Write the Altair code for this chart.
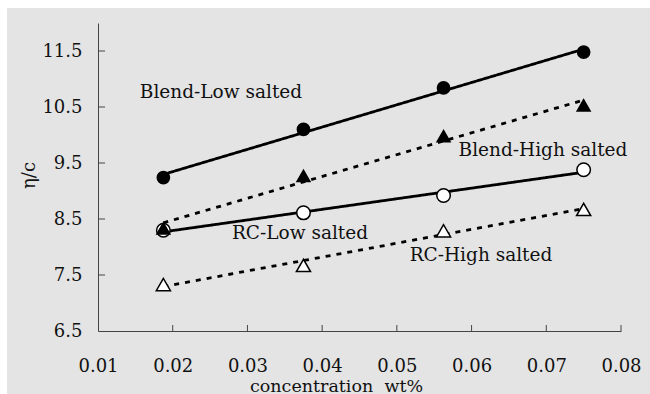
import altair as alt
import pandas as pd

conc = [0.01875, 0.0375, 0.05625, 0.075]
blend_low = [9.24, 10.10, 10.84, 11.48]
blend_high = [8.33, 9.27, 9.98, 10.53]
rc_low = [8.30, 8.61, 8.92, 9.38]
rc_high = [7.33, 7.67, 8.29, 8.67]

series_names = ["Blend-Low salted", "Blend-High salted", "RC-Low salted", "RC-High salted"]
series_vals = [blend_low, blend_high, rc_low, rc_high]

x_ticks = [0.01, 0.02, 0.03, 0.04, 0.05, 0.06, 0.07, 0.08]
y_ticks = [6.5, 7.5, 8.5, 9.5, 10.5, 11.5]

rows = []
for name, vals in zip(series_names, series_vals):
    for c, v in zip(conc, vals):
        rows.append({"series": name, "conc": c, "eta": v})
df = pd.DataFrame(rows)
# draw order so the filled triangle sits over the open circle
draw_order = {"RC-Low salted": 0, "RC-High salted": 1, "Blend-Low salted": 2, "Blend-High salted": 3}
df["ord"] = df["series"].map(draw_order)

W, H = 523, 308
SERIF = "DejaVu Serif"

xscale = alt.Scale(domain=[0.01, 0.08], nice=False, zero=False)
yscale = alt.Scale(domain=[6.5, 12], nice=False, zero=False)

xenc = alt.X("conc:Q", scale=xscale,
             axis=alt.Axis(values=x_ticks, format=".2f", ticks=False, grid=False,
                           labelFlush=False, labelOverlap=False,
                           labelFont=SERIF, labelFontSize=18, labelColor="#111",
                           labelPadding=26, title="concentration\u00a0 wt%",
                           titleFont=SERIF, titleFontSize=17.5, titleColor="#111",
                           titleFontWeight="normal",
                           titleX=238, titleY=55, titleBaseline="middle", zindex=2))
yenc = alt.Y("eta:Q", scale=yscale,
             axis=alt.Axis(values=y_ticks, format=".1f", ticks=False, grid=False,
                           labelFlush=False, labelOverlap=False,
                           labelFont=SERIF, labelFontSize=18, labelColor="#111",
                           labelPadding=16, title="η/c",
                           titleFont=SERIF, titleFontSize=18, titleColor="#111",
                           titleFontWeight="normal",
                           titleX=-69, titleY=152, titleBaseline="middle",
                           titleAlign="center", zindex=2))

bg = alt.Chart(alt.Data(values=[{}])).mark_rect(color="#e4e4e4").encode(
    x=alt.value(-91), x2=alt.value(W + 80), y=alt.value(-15), y2=alt.value(H + 90)
)

base = alt.Chart(df)

lines = base.transform_regression("conc", "eta", groupby=["series"]).mark_line(
    color="black", strokeWidth=2.8
).encode(
    x=xenc, y=yenc,
    detail="series:N",
    strokeDash=alt.StrokeDash("series:N",
                              scale=alt.Scale(domain=series_names,
                                              range=[[1, 0], [5, 6], [1, 0], [5, 6]]),
                              legend=None),
)

points = base.mark_point(filled=True, stroke="black", strokeWidth=1.5, opacity=1).encode(
    x=xenc, y=yenc,
    shape=alt.Shape("series:N", scale=alt.Scale(domain=series_names,
                                                range=["circle", "triangle-up", "circle", "triangle-up"]),
                    legend=None),
    fill=alt.Fill("series:N", scale=alt.Scale(domain=series_names,
                                              range=["black", "black", "white", "white"]),
                  legend=None),
    size=alt.Size("series:O", scale=alt.Scale(domain=series_names,
                                              range=[150, 200, 150, 200]),
                  legend=None),
    order=alt.Order("ord:Q"),
)

xt = alt.Chart(pd.DataFrame({"t": x_ticks[1:]})).mark_rule(color="#444", strokeWidth=1).encode(
    x=alt.X("t:Q", scale=xscale), y=alt.value(H), y2=alt.value(H - 6)
)
yt = alt.Chart(pd.DataFrame({"t": y_ticks[1:]})).mark_rule(color="#444", strokeWidth=1).encode(
    y=alt.Y("t:Q", scale=yscale), x=alt.value(0), x2=alt.value(7)
)

labels = []
label_px = {
    "Blend-Low salted": (123, 69),
    "Blend-High salted": (445, 127),
    "RC-Low salted": (202, 210),
    "RC-High salted": (383, 232),
}
for name in series_names:
    px, py = label_px[name]
    labels.append(
        alt.Chart(alt.Data(values=[{"label": name}])).mark_text(
            font=SERIF, fontSize=18.5, color="#111", align="center", baseline="middle"
        ).encode(text="label:N", x=alt.value(px), y=alt.value(py))
    )

chart = alt.layer(bg, lines, points, xt, yt, *labels).properties(
    width=W, height=H,
    padding={"left": 98, "top": 23, "right": 29, "bottom": 63},
    autosize=alt.AutoSizeParams(type="none"),
).configure(background="white").configure_view(stroke=None).configure_axis(
    domainColor="#444", domainWidth=1,
)

chart.save("out.html", embed_options={"renderer": "svg", "actions": False})
